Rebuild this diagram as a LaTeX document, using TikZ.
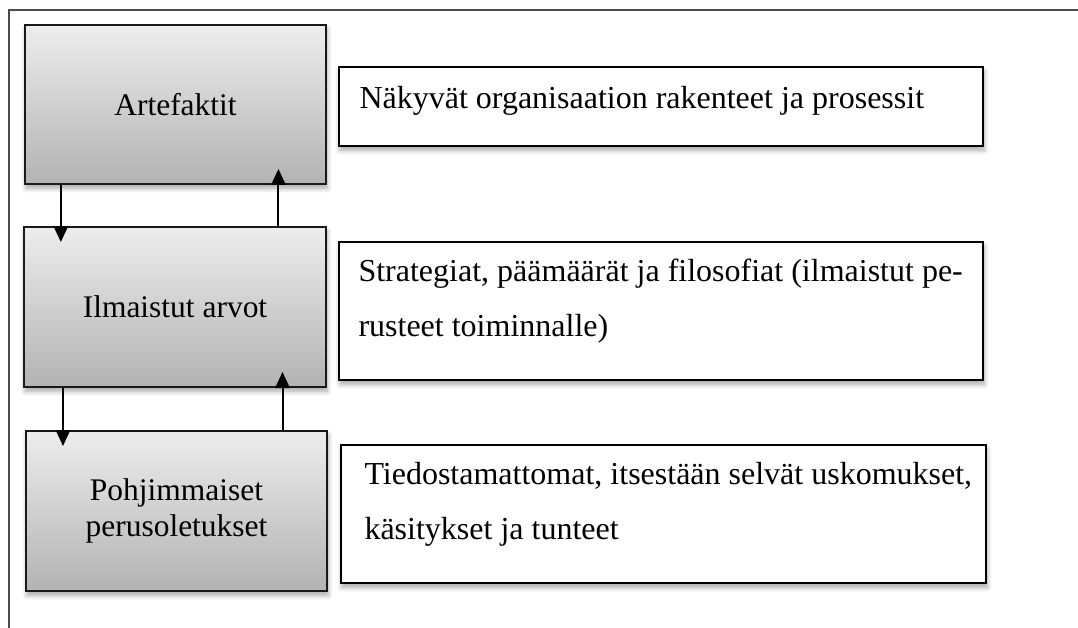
\documentclass[tikz,border=0pt]{standalone}
\usepackage{fontspec}
\setmainfont{Liberation Serif}
\usetikzlibrary{calc, arrows.meta, shadows.blur}

\begin{document}
\begin{tikzpicture}[
    x=0.375pt, y=-0.375pt,
    level/.style={rectangle, draw=black!90, line width=0.75pt, top color=black!7, bottom color=black!30,
        blur shadow={shadow xshift=0.4pt, shadow yshift=-1.6pt, shadow blur steps=6, shadow opacity=35},
        align=center, font=\fontsize{11.8}{13.4}\selectfont},
    note/.style={rectangle, draw=black, line width=0.75pt, fill=white,
        blur shadow={shadow xshift=0.4pt, shadow yshift=-1.6pt, shadow blur steps=6, shadow opacity=35}},
    notetext/.style={anchor=base west, inner sep=0pt, align=left, font=\fontsize{12}{20.5}\selectfont},
    flow/.style={line width=0.75pt, -{Triangle[length=6pt, width=5.4pt]}, shorten >=-6pt}
]

\useasboundingbox (0,0) rectangle (1078,628);

% Frame (open to the right and below)
\draw[black!70, line width=0.6pt] (9,628) -- (9,10) -- (1078,10);

% Levels
\node[level, minimum width=112.9pt, minimum height=59.6pt] (B1) at (175.5,104.5) {Artefaktit};
\node[level, minimum width=113.2pt, minimum height=60pt] (B2) at (175,307) {Ilmaistut arvot};
\node[level, minimum width=112.9pt, minimum height=60pt] (B3) at (176.5,511) {Pohjimmaiset\\perusoletukset};

% Descriptions
\node[note, minimum width=241.5pt, minimum height=29.6pt] (R1) at (661,106.5) {};
\node[note, minimum width=241.5pt, minimum height=51.75pt] (R2) at (661,311) {};
\node[note, minimum width=241.9pt, minimum height=51.75pt] (R3) at (663.5,514) {};

% (base = last line of the text)
\node[notetext] (T1) at ($(R1.north west)+(21,42)$) {Näkyvät organisaation rakenteet ja prosessit};
\node[notetext] (T2) at ($(R2.north west)+(20,95)$) {Strategiat, päämäärät ja filosofiat (ilmaistut pe-\\rusteet toiminnalle)};
\node[notetext] (T3) at ($(R3.north west)+(24,95)$) {Tiedostamattomat, itsestään selvät uskomukset,\\käsitykset ja tunteet};

% Arrows between levels
\draw[flow] ([xshift=-43pt]B1.south) -- ([xshift=-43pt]B1.south |- B2.north);
\draw[flow] ([xshift=38.8pt]B2.north) -- ([xshift=38.8pt]B2.north |- B1.south);
\draw[flow] ([xshift=-42pt]B2.south) -- ([xshift=-42pt]B2.south |- B3.north);
\draw[flow] ([xshift=39.75pt]B3.north) -- ([xshift=39.75pt]B3.north |- B2.south);

\end{tikzpicture}
\end{document}
